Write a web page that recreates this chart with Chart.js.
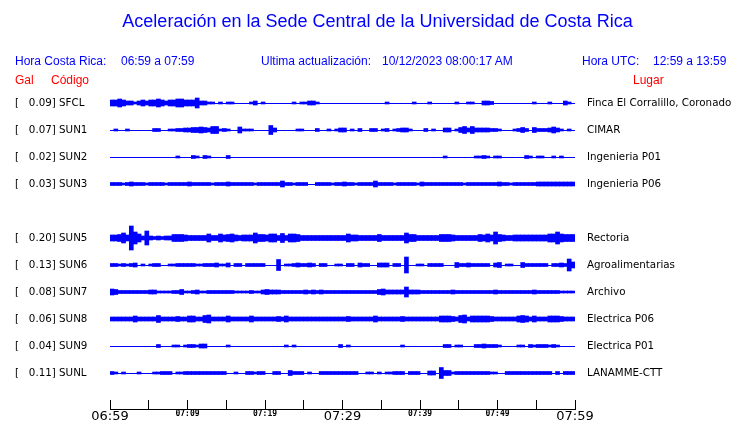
<!DOCTYPE html>
<html>
<head>
<meta charset="utf-8">
<title>Aceleración Sede Central UCR</title>
<script src="https://cdn.jsdelivr.net/npm/chart.js@4/dist/chart.umd.min.js"></script>
<style>
  body { margin: 0; background: #fff; }
  #wrap { position: relative; width: 740px; height: 423px; }
  #wrap canvas { position: absolute; left: 0; top: 0; }
  .hdr { position: absolute; font-family: "Liberation Sans", Arial, sans-serif; font-size: 12px; line-height: 14px; white-space: nowrap; }
  .blue { color: #0000ff; }
  .red { color: #ff0000; }
</style>
</head>
<body>
<div id="wrap">
  <canvas id="seismoChart" width="740" height="423"></canvas>
  <div class="hdr blue" style="left:15px;top:54px">Hora Costa Rica:</div>
  <div class="hdr blue" style="left:121px;top:54px">06:59 a 07:59</div>
  <div class="hdr blue" style="left:261px;top:54px">Ultima actualización:</div>
  <div class="hdr blue" style="left:382px;top:54px">10/12/2023 08:00:17 AM</div>
  <div class="hdr blue" style="left:582px;top:54px">Hora UTC:</div>
  <div class="hdr blue" style="left:653px;top:54px">12:59 a 13:59</div>
  <div class="hdr red" style="left:15px;top:73px">Gal</div>
  <div class="hdr red" style="left:51px;top:73px">Código</div>
  <div class="hdr red" style="left:633px;top:73px">Lugar</div>
</div>
<script>
// Stations from top to bottom (SUN4 has no trace in this window)
const stationCodes = ['SFCL', 'SUN1', 'SUN2', 'SUN3', 'SUN4', 'SUN5', 'SUN6', 'SUN7', 'SUN8', 'SUN9', 'SUNL'];
const peakGal = [0.09, 0.07, 0.02, 0.03, null, 0.20, 0.13, 0.08, 0.06, 0.04, 0.11];
const placeNames = ['Finca El Corralillo, Coronado', 'CIMAR', 'Ingenieria P01', 'Ingenieria P06', '',
    'Rectoria', 'Agroalimentarias', 'Archivo', 'Electrica P06', 'Electrica P01', 'LANAMME-CTT'];

// Time axis, minutes after 06:59
const timeTicks = [0, 5, 10, 15, 20, 25, 30, 35, 40, 45, 50, 55, 60];
const timeTickLabels = ['06:59', '', '07:09', '', '07:19', '', '07:29', '', '07:39', '', '07:49', '', '07:59'];
const bigTickLabels = ['06:59', '07:29', '07:59'];

// Half amplitude of each trace, one value per 30 s window (120 windows)
const envSFCL = [
    3, 3, 4, 3, 2, 2, 1, 2, 3, 2, 3, 3, 4, 3, 2, 3, 3, 4, 4, 3,
    3, 3, 5, 2, 2, 1, 1, 0, 1, 0, 1, 1, 0, 0, 0, 0, 1, 2, 0, 1,
    0, 0, 0, 0, 0, 0, 0, 1, 0, 1, 1, 2, 2, 1, 0, 0, 0, 0, 0, 0,
    0, 0, 0, 0, 0, 0, 0, 0, 0, 0, 0, 1, 0, 0, 0, 0, 0, 0, 1, 0,
    0, 0, 1, 0, 0, 0, 0, 0, 0, 1, 0, 0, 1, 1, 0, 0, 2, 2, 1.5, 0,
    0, 0, 0, 0, 0, 0, 0, 0, 0, 1, 0, 0, 0, 1, 0, 0, 0, 2, 1, 0
];
const envSUN1 = [
    0, 1, 0, 0, 1, 0, 0, 0, 0, 0, 0, 1.5, 1.5, 0, 0, 1, 1, 1.5, 1.5, 2,
    2, 2.5, 2.5, 3, 2.5, 2, 3.5, 3.5, 1, 1.5, 1, 0, 0, 3, 1, 1, 1, 0, 0, 0,
    0, 4.5, 2, 0, 0, 0, 0, 0, 1, 1, 0, 0, 0, 1.5, 0, 0, 1, 0, 1, 2,
    2, 0, 1, 0, 1.5, 0, 0, 1.5, 1.5, 0, 1, 1.5, 0, 1, 1.5, 2, 2, 1, 0, 0,
    0, 1.5, 0, 1, 0, 0, 2, 2, 0, 1, 2.5, 3.5, 2, 3.5, 2, 2, 2, 2, 1.5, 1.5,
    1, 0, 0, 0, 1, 1.5, 2.5, 1.5, 0, 2.5, 1.5, 1.5, 1.5, 2, 3, 2, 1, 0, 1, 0
];
const envSUN2 = [
    0, 0, 0, 0, 0, 0, 0, 0, 0, 0, 0, 0, 0, 0, 0, 0, 0, 1, 0, 0,
    0, 1.5, 1, 0, 1.5, 1, 0, 0, 0, 0, 1.5, 0, 0, 0, 0, 0, 0, 0, 0, 0,
    0, 0, 0, 0, 0, 0, 0, 0, 0, 0, 0, 0, 0, 0, 0, 0, 0, 0, 0, 0,
    0, 0, 0, 0, 0, 0, 0, 0, 0, 0, 0, 0, 0, 0, 0, 0, 0, 0, 0, 0,
    0, 0, 0, 0, 0, 0, 1, 0, 0, 0, 0, 0, 0, 0, 1, 1, 1.5, 1, 0, 1,
    1, 0, 0, 0, 0, 0, 0, 1.5, 1, 0, 1, 1, 0, 0, 1, 0, 1, 0, 0, 0
];
const envSUN3 = [
    1.5, 1.5, 1.5, 1, 1.5, 2, 1.5, 1.5, 1.5, 1, 1.5, 1.5, 1.5, 1.5, 1, 1.5, 1.5, 1.5, 1.5, 1.5,
    2, 1.5, 1.5, 1.5, 1.5, 1.5, 1, 1.5, 1.5, 1.5, 2, 1.5, 1.5, 1.5, 1.5, 1.5, 1.5, 1, 1.5, 1.5,
    1.5, 1.5, 1.5, 1.5, 3, 1.5, 1.5, 1, 1.5, 1.5, 1.5, 0, 0, 1.5, 1.5, 1.5, 1.5, 1, 1.5, 1.5,
    2, 1.5, 1.5, 1, 1.5, 1.5, 1.5, 1.5, 3, 1.5, 1.5, 1.5, 1.5, 1, 1.5, 1.5, 1.5, 1.5, 1.5, 1,
    2, 1.5, 1.5, 1.5, 1.5, 1.5, 1.5, 1.5, 1.5, 1.5, 1.5, 1, 1.5, 1.5, 1.5, 1.5, 1.5, 1.5, 1.5, 1.5,
    2, 1.5, 1.5, 1, 1.5, 1.5, 1.5, 1.5, 1.5, 1.5, 2, 2, 2, 2, 2, 2, 2, 2, 2, 2
];
const envSUN5 = [
    3, 3, 3.5, 5, 3, 12, 6, 4, 2, 7, 2, 1.5, 2, 1.5, 2, 2, 3.5, 3.5, 3.5, 3,
    2.5, 2.5, 2.5, 2.5, 2.5, 4, 2.5, 2.5, 4, 3, 3.5, 4, 3, 2.5, 3, 3, 3, 5, 3.5, 3.5,
    3, 4, 4, 2.5, 4.5, 2.5, 4, 4, 3.5, 2.5, 2.5, 2.5, 2.5, 2.5, 2.5, 2.5, 2.5, 2.5, 2.5, 2.5,
    2.5, 4, 3, 3, 2.5, 2.5, 2.5, 2.5, 2.5, 3.5, 2.5, 2.5, 2.5, 2.5, 2.5, 2.5, 5, 3.5, 3.5, 2.5,
    2.5, 2.5, 2.5, 2.5, 2.5, 3.5, 3.5, 3.5, 3, 2.5, 2.5, 2.5, 2.5, 2.5, 2.5, 3.5, 3, 4, 3, 6,
    3.5, 3, 2.5, 2.5, 3, 3, 3, 3, 3, 3, 3, 3, 3, 4, 4, 6, 4, 3.5, 3.5, 3.5
];
const envSUN6 = [
    1.5, 1.5, 1, 1.5, 1, 1.5, 2, 0, 1, 0, 1, 1.5, 1.5, 0, 0, 1, 1, 1.5, 1.5, 1.5,
    1.5, 1.5, 1, 1, 1.5, 1.5, 1.5, 2, 1, 1, 2, 0, 1.5, 1.5, 0, 1.5, 1.5, 1.5, 1.5, 1.5,
    0, 0, 0, 5.5, 0, 1, 1, 1.5, 2, 1.5, 1.5, 2, 1.5, 0, 1.5, 1.5, 0, 0, 1, 1,
    0, 1.5, 1.5, 0, 2, 1.5, 1.5, 0, 0, 2, 2, 2, 0, 1.5, 1.5, 0, 8, 0, 0, 1,
    1, 0, 1.5, 1.5, 1.5, 1.5, 0, 0, 0, 2.5, 1.5, 1.5, 2, 1.5, 1.5, 1.5, 1.5, 1.5, 0, 2,
    2.5, 0, 1, 1, 0, 0, 2.5, 1.5, 1.5, 1.5, 1.5, 1.5, 1.5, 0, 1.5, 1.5, 2, 1.5, 6, 3
];
const envSUN7 = [
    3, 2.5, 1.5, 1.5, 1.5, 1.5, 1.5, 1.5, 1.5, 1.5, 2, 2, 1, 1, 1, 1, 1.5, 1.5, 2.5, 1,
    1, 1.5, 2, 1, 1, 1.5, 1.5, 1.5, 1.5, 1.5, 1.5, 1.5, 1, 1, 1, 1, 1.5, 1, 1, 2,
    2.5, 2, 2, 2, 1.5, 1.5, 1.5, 1.5, 1.5, 1.5, 2, 1.5, 2, 1.5, 2, 1.5, 1.5, 1.5, 1.5, 1.5,
    1.5, 1.5, 1.5, 1.5, 1.5, 1.5, 1.5, 1.5, 1.5, 2.5, 3, 2, 2, 2, 2, 2, 5, 2, 2, 2,
    1.5, 1.5, 1.5, 1.5, 1.5, 1.5, 1.5, 1.5, 2, 1.5, 1.5, 1.5, 1.5, 1.5, 1.5, 1.5, 1.5, 1.5, 1.5, 2,
    1.5, 1.5, 1.5, 1.5, 1.5, 1.5, 1.5, 1.5, 1.5, 2, 1.5, 1.5, 1.5, 1.5, 1.5, 1.5, 1, 1, 1, 1
];
const envSUN8 = [
    2, 2, 2, 2, 2, 2, 3, 2, 2, 2, 2, 2, 3.5, 2, 2, 2, 2, 2.5, 2, 2,
    3, 3, 2, 2, 3.5, 4, 2, 2, 2, 2, 3, 2, 2, 2, 2, 2, 3, 2, 2, 2,
    2, 2, 2, 2.5, 2, 3, 2, 2, 2, 2, 2, 2, 2, 2, 2, 2, 2, 2, 2, 2,
    2, 2.5, 2, 2, 2, 2, 2, 2, 3, 2, 2, 2, 2, 2, 2, 2.5, 2, 2, 2, 2,
    2, 2, 2, 2, 2, 3, 3, 3, 2.5, 2, 3.5, 4, 2, 3, 3, 3, 3, 3, 2.5, 2,
    2, 2, 2, 2, 2, 3, 3.5, 3, 2, 3, 2, 2, 2, 3, 3, 3, 2.5, 2, 2, 2
];
const envSUN9 = [
    0, 0, 0, 0, 0, 0, 0, 0, 0, 0, 0, 0, 1.5, 0, 0, 0, 1, 1, 0, 1,
    1.5, 1.5, 1, 2, 2, 0, 0, 0, 0, 0, 1, 0, 0, 0, 0, 0, 0, 0, 0, 0,
    0, 0, 0, 0, 0, 1, 0, 1, 0, 0, 0, 0, 0, 0, 0, 0, 0, 0, 0, 1.5,
    0, 1, 0, 0, 0, 0, 0, 0, 0, 0, 0, 0, 0, 0, 0, 1, 0, 0, 0, 0,
    0, 0, 0, 0, 0, 0, 1.5, 1.5, 0, 1, 1, 0, 0, 0, 1.5, 1.5, 2, 1.5, 1.5, 1.5,
    1, 0, 0, 0, 0, 1, 1, 0, 1.5, 1, 1.5, 1.5, 1.5, 1, 1.5, 1, 0, 0, 0, 0
];
const envSUNL = [
    1.5, 1, 0, 1, 0, 0, 0, 1, 0, 0, 0, 1, 1, 1.5, 1.5, 1.5, 0, 1, 1, 1.5,
    1.5, 1.5, 1.5, 1.5, 1.5, 1.5, 1.5, 1.5, 1.5, 1.5, 0, 0, 1, 0, 0, 1.5, 1.5, 1, 1.5, 1.5,
    0, 0, 1.5, 1.5, 0, 0, 2.5, 1.5, 1.5, 1.5, 0, 1, 0, 0, 1.5, 1.5, 1.5, 1.5, 1.5, 1.5,
    1.5, 1.5, 1.5, 1.5, 0, 0, 1, 1, 0, 1, 0, 1, 1, 1.5, 1.5, 1.5, 0, 1.5, 1.5, 1.5,
    0, 0, 2, 2, 0, 5.5, 2.5, 2.5, 1, 1.5, 1.5, 1.5, 1.5, 1.5, 1.5, 1.5, 1.5, 1.5, 1, 1,
    0, 0, 1.5, 1.5, 1.5, 1.5, 1.5, 1.5, 1.5, 1.5, 1.5, 1.5, 1.5, 1.5, 0, 1.5, 0, 1.5, 1.5, 1.5
];
const envelopes = [envSFCL, envSUN1, envSUN2, envSUN3, null, envSUN5, envSUN6, envSUN7, envSUN8, envSUN9, envSUNL];

const WINDOW_MIN = 0.5;      // minutes per envelope value
const AMP_TO_ROW = 1 / 27;   // amplitude unit as fraction of trace spacing
const TRACE_BLUE = '#0000ff';

const traceRows = envelopes.map((e, i) => (e ? i : null)).filter(v => v !== null);

const datasets = [];
envelopes.forEach((env, row) => {
    if (!env) return;
    const points = [];
    env.forEach((a, i) => {
        if (a > 0) {
            points.push({ x: (i + 0.5) * WINDOW_MIN, y: [row - a * AMP_TO_ROW, row + a * AMP_TO_ROW] });
        }
    });
    datasets.push({
        label: stationCodes[row],
        data: points,
        backgroundColor: TRACE_BLUE,
        borderWidth: 0,
        barThickness: 4,
        grouped: false
    });
});

const rowTicks = (scale) => {
    scale.ticks = traceRows.map(v => ({ value: v }));
};

// fixed axis boxes, no extra label padding pushed into the layout
const fixWidth = (w) => (scale) => {
    scale.width = w;
    scale.paddingTop = 0;
    scale.paddingBottom = 0;
};

new Chart(document.getElementById('seismoChart'), {
    type: 'bar',
    data: { datasets: datasets },
    options: {
        responsive: false,
        animation: false,
        layout: { padding: { left: 15, right: 0, top: 0, bottom: 0 } },
        plugins: {
            legend: { display: false },
            tooltip: { enabled: false },
            title: {
                display: true,
                text: 'Aceleración en la Sede Central de la Universidad de Costa Rica',
                color: TRACE_BLUE,
                font: { family: 'Liberation Sans', size: 18, weight: 'normal' },
                padding: { top: 11, bottom: 43.4 }
            }
        },
        scales: {
            x: {
                type: 'linear',
                min: 0,
                max: 60,
                offset: false,
                afterBuildTicks: (scale) => { scale.ticks = timeTicks.map(v => ({ value: v })); },
                afterFit: (scale) => { scale.height = 14; },
                grid: { offset: false, drawOnChartArea: false, drawTicks: true, tickLength: -9, color: '#000' },
                border: { display: true, color: '#000', width: 1 },
                ticks: {
                    autoSkip: false,
                    maxRotation: 0,
                    padding: 9.2,
                    color: '#000',
                    callback: (value, index) => timeTickLabels[index],
                    font: (ctx) => bigTickLabels.includes(timeTickLabels[ctx.index])
                        ? { family: 'DejaVu Sans', size: 13 }
                        : { family: 'DejaVu Sans Mono', size: 8, weight: 'bold' }
                }
            },
            y: {
                type: 'linear',
                position: 'left',
                reverse: true,
                min: -1,
                max: 11.333,
                afterBuildTicks: rowTicks,
                afterFit: fixWidth(95),
                grid: { color: TRACE_BLUE, lineWidth: 1, drawTicks: false },
                border: { display: false },
                ticks: {
                    crossAlign: 'far',
                    color: '#000',
                    font: { family: 'DejaVu Sans', size: 10.3 },
                    callback: (value) => '[' + peakGal[value].toFixed(2).padStart(7) + '] ' + stationCodes[value]
                }
            },
            y2: {
                type: 'linear',
                position: 'right',
                reverse: true,
                min: -1,
                max: 11.333,
                afterBuildTicks: rowTicks,
                afterFit: fixWidth(165),
                grid: { display: false, drawTicks: false },
                border: { display: false },
                ticks: {
                    padding: 12,
                    color: '#000',
                    font: { family: 'DejaVu Sans', size: 10.3 },
                    callback: (value) => placeNames[value]
                }
            }
        }
    }
});
</script>
</body>
</html>
